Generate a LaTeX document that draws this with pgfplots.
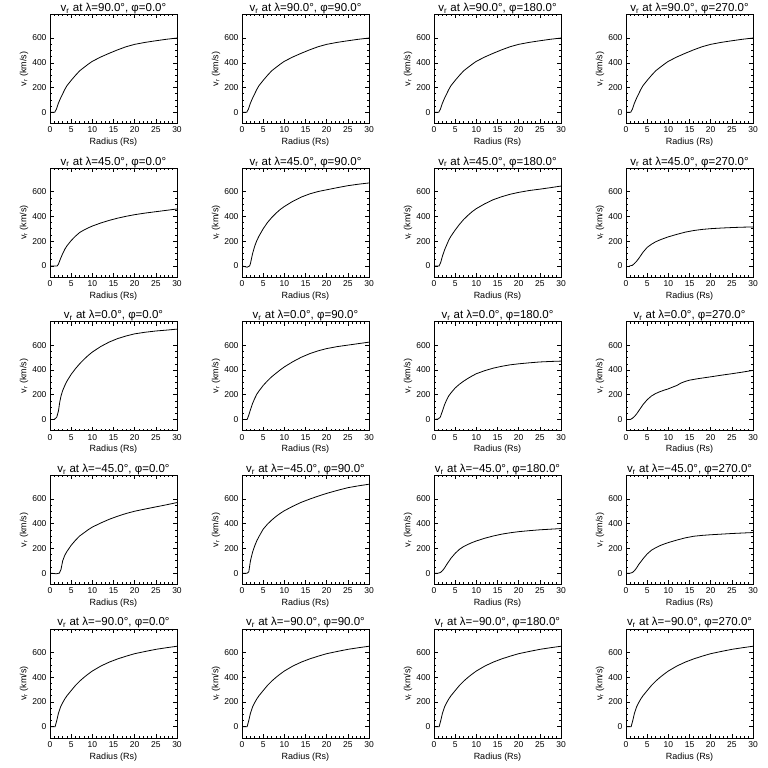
\documentclass[border=0pt]{standalone}
\usepackage{fontspec}
\setmainfont{Liberation Sans}
\usepackage{pgfplots}
\pgfplotsset{compat=1.18}
\pgfplotsset{
 panel/.style={
  scale only axis, width=127pt, height=109pt,
  xmin=0,xmax=30,ymin=-90,ymax=790,
  xtick={0,5,...,30}, ytick={0,200,400,600},
  minor x tick num=4, minor y tick num=3,
  tick align=inside, major tick length=4pt, minor tick length=2pt,
  tick style={black, line width=0.6pt},
  axis line style={line width=0.8pt},
  /pgf/number format/assume math mode=true,
  tick label style={font=\fontsize{8.5}{9}\selectfont},
  label style={font=\fontsize{9}{10}\selectfont},
  title style={font=\fontsize{11.5}{12}\selectfont, at={(axis description cs:0.5,1)}, anchor=base, yshift=-3pt},
  xlabel={Radius (Rs)}, ylabel={v\textsubscript{r} (km/s)},
  xlabel style={at={(axis description cs:0.5,-0.174)}, anchor=center},
  ylabel style={at={(axis description cs:-0.205,0.5)}, anchor=center},
 }
}
\newcommand{\panel}[5]{%
 \begin{axis}[panel, at={({50pt+#1*192pt},{-14.5pt-#2*153.6pt})}, anchor=north west,
   title={v\textsubscript{r} at λ=#3°, φ=#4°}]
 \addplot[black, line width=0.8pt] coordinates {#5};
 \end{axis}}
\begin{document}
\begin{tikzpicture}
\path[use as bounding box] (0,0) rectangle (768pt,-768pt);
% row 1: lambda = 90
\panel{0}{0}{90.0}{0.0}{(0,0)(1.1,0)(1.5,25)(2,75)(2.5,115)(3,150)(3.5,185)(4,215)(5,258)(6,298)(7,335)(8,362)(9,388)(10,412)(12,447)(14,477)(16,505)(18,530)(20,549)(22.5,565)(25,578)(27.5,590)(30,600)}
\panel{1}{0}{90.0}{90.0}{(0,0)(1.1,0)(1.5,25)(2,75)(2.5,115)(3,150)(3.5,185)(4,215)(5,258)(6,298)(7,335)(8,362)(9,388)(10,412)(12,447)(14,477)(16,505)(18,530)(20,549)(22.5,565)(25,578)(27.5,590)(30,600)}
\panel{2}{0}{90.0}{180.0}{(0,0)(1.1,0)(1.5,25)(2,75)(2.5,115)(3,150)(3.5,185)(4,215)(5,258)(6,298)(7,335)(8,362)(9,388)(10,412)(12,447)(14,477)(16,505)(18,530)(20,549)(22.5,565)(25,578)(27.5,590)(30,600)}
\panel{3}{0}{90.0}{270.0}{(0,0)(1.1,0)(1.5,25)(2,75)(2.5,115)(3,150)(3.5,185)(4,215)(5,258)(6,298)(7,335)(8,362)(9,388)(10,412)(12,447)(14,477)(16,505)(18,530)(20,549)(22.5,565)(25,578)(27.5,590)(30,600)}
% row 2: lambda = 45
\panel{0}{1}{45.0}{0.0}{(0,0)(1.7,0)(2,15)(2.5,60)(3,100)(3.5,135)(4,162)(5,205)(6,240)(7,270)(8,290)(9,307)(10,322)(12,347)(14,368)(16,386)(18,401)(20,414)(22.5,427)(25,438)(27.5,449)(30,460)}
\panel{1}{1}{45.0}{90.0}{(0,0)(1.2,-10)(1.8,0)(2,20)(2.5,100)(3,160)(3.5,205)(4,240)(5,300)(6,350)(7,390)(8,425)(9,455)(10,480)(12,522)(14,556)(16,582)(18,601)(20,615)(22.5,632)(25,648)(27.5,660)(30,670)}
\panel{2}{1}{45.0}{180.0}{(0,0)(1.2,0)(1.6,30)(2,80)(2.5,130)(3,170)(3.5,210)(4,240)(5,290)(6,335)(7,375)(8,408)(9,438)(10,463)(12,502)(14,535)(16,559)(18,579)(20,594)(22.5,609)(25,620)(27.5,632)(30,645)}
\panel{3}{1}{45.0}{270.0}{(0.8,0)(1.5,5)(2,20)(2.5,38)(3,60)(3.5,85)(4,110)(5,150)(6,175)(7,195)(8,210)(9,223)(10,235)(12,255)(14,273)(16,286)(18,295)(20,301)(22.5,306)(25,310)(27.5,313)(30,315)}
% row 3: lambda = 0
\panel{0}{2}{0.0}{0.0}{(0,0)(1,0)(1.6,20)(2,70)(2.3,140)(2.6,190)(3,235)(3.5,275)(4,310)(5,365)(6,410)(7,450)(8,485)(9,517)(10,545)(12,590)(14,626)(16,654)(18,675)(20,692)(22.5,705)(25,715)(27.5,722)(30,730)}
\panel{1}{2}{0.0}{90.0}{(0,0)(1.2,0)(1.6,35)(2,80)(2.5,130)(3,170)(3.5,205)(4,230)(5,275)(6,312)(7,345)(8,373)(9,400)(10,425)(12,467)(14,503)(16,532)(18,555)(20,573)(22.5,589)(25,601)(27.5,613)(30,625)}
\panel{2}{2}{0.0}{180.0}{(0,0)(1,5)(1.5,20)(2,70)(2.5,120)(3,160)(3.5,192)(4,215)(5,255)(6,285)(7,310)(8,332)(9,352)(10,370)(12,395)(14,415)(16,430)(18,442)(20,450)(22.5,458)(25,465)(27.5,469)(30,472)}
\panel{3}{2}{0.0}{270.0}{(0,0)(1,0)(1.5,10)(2,25)(2.5,45)(3,70)(3.5,95)(4,120)(5,160)(6,190)(7,210)(8,225)(9,237)(10,248)(11,262)(12,275)(13,295)(14,308)(15,318)(17,330)(20,345)(22.5,358)(25,370)(27.5,383)(30,397)}
% row 4: lambda = -45
\panel{0}{3}{−45.0}{0.0}{(0,0)(1.5,-5)(2.2,0)(2.6,30)(3,100)(3.5,145)(4,175)(5,225)(6,265)(7,300)(8,325)(9,350)(10,372)(12,405)(14,435)(16,460)(18,482)(20,500)(22.5,518)(25,535)(27.5,552)(30,570)}
\panel{1}{3}{−45.0}{90.0}{(0,0)(1.2,0)(1.6,10)(2,100)(2.5,170)(3,220)(3.5,262)(4,295)(5,355)(6,395)(7,428)(8,457)(9,482)(10,504)(12,540)(14,572)(16,598)(18,622)(20,644)(22.5,668)(25,690)(27.5,705)(30,718)}
\panel{2}{3}{−45.0}{180.0}{(0,0)(1,0)(1.5,5)(2,20)(2.5,42)(3,70)(3.5,95)(4,120)(5,160)(6,192)(7,215)(8,232)(9,247)(10,260)(12,282)(14,300)(16,315)(18,326)(20,335)(22.5,343)(25,350)(27.5,355)(30,360)}
\panel{3}{3}{−45.0}{270.0}{(0,0)(1,0)(1.5,5)(2,20)(2.5,42)(3,70)(3.5,92)(4,115)(5,155)(6,185)(7,205)(8,222)(9,235)(10,247)(12,267)(14,285)(16,298)(18,305)(20,310)(22.5,315)(25,320)(27.5,324)(30,328)}
% row 5: lambda = -90
\panel{0}{4}{−90.0}{0.0}{(0,0)(1.2,0)(1.6,50)(2,110)(2.5,160)(3,195)(3.5,225)(4,250)(5,292)(6,333)(7,368)(8,398)(9,425)(10,450)(12,490)(14,522)(16,548)(18,570)(20,590)(22.5,608)(25,625)(27.5,638)(30,650)}
\panel{1}{4}{−90.0}{90.0}{(0,0)(1.2,0)(1.6,50)(2,110)(2.5,160)(3,195)(3.5,225)(4,250)(5,292)(6,333)(7,368)(8,398)(9,425)(10,450)(12,490)(14,522)(16,548)(18,570)(20,590)(22.5,608)(25,625)(27.5,638)(30,650)}
\panel{2}{4}{−90.0}{180.0}{(0,0)(1.2,0)(1.6,50)(2,110)(2.5,160)(3,195)(3.5,225)(4,250)(5,292)(6,333)(7,368)(8,398)(9,425)(10,450)(12,490)(14,522)(16,548)(18,570)(20,590)(22.5,608)(25,625)(27.5,638)(30,650)}
\panel{3}{4}{−90.0}{270.0}{(0,0)(1.2,0)(1.6,50)(2,110)(2.5,160)(3,195)(3.5,225)(4,250)(5,292)(6,333)(7,368)(8,398)(9,425)(10,450)(12,490)(14,522)(16,548)(18,570)(20,590)(22.5,608)(25,625)(27.5,638)(30,650)}
\end{tikzpicture}
\end{document}
